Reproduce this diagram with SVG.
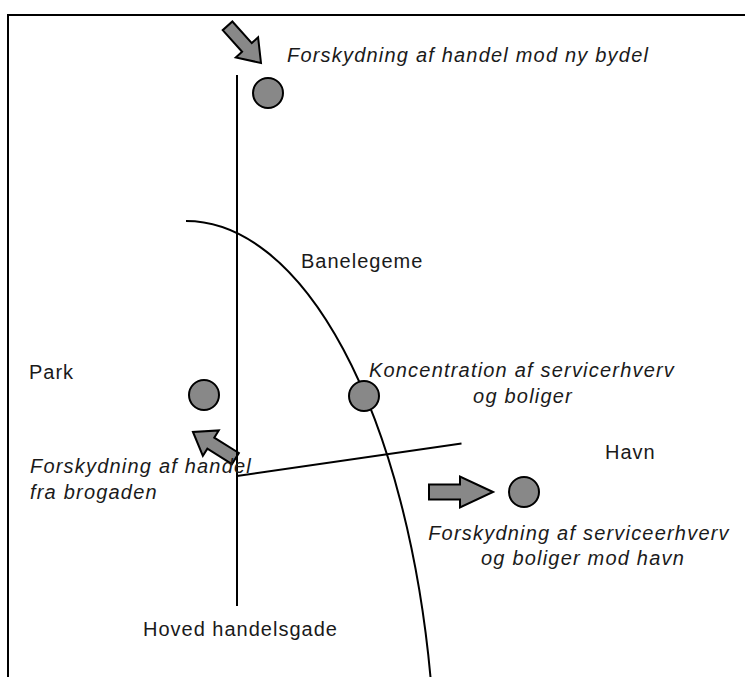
<svg xmlns="http://www.w3.org/2000/svg" xmlns:xlink="http://www.w3.org/1999/xlink" width="745" height="677" viewBox="0 0 745 677">
  <style>
    .line { fill: none; stroke: #000; stroke-width: 2; }
    .dot { fill: #888888; stroke: #000; stroke-width: 2; }
    .arr { fill: #888888; stroke: #000; stroke-width: 2; stroke-linejoin: miter; }
    .lbl { font-family: "Liberation Sans", Arial, sans-serif; font-size: 20px; fill: #1a1a1a; letter-spacing: 1px; }
    .it { font-style: italic; letter-spacing: 1.2px; }
  </style>
  <defs>
    <polygon id="arrS" points="0,0 -21,-15 -21,-6.5 -50,-6.5 -50,6.5 -21,6.5 -21,15"/>
    <polygon id="arrL" points="0,0 -33,-15.5 -33,-7.5 -64,-7.5 -64,7.5 -33,7.5 -33,15.5"/>
  </defs>
  <rect x="0" y="0" width="745" height="677" fill="#fff"/>
  <rect id="frame" x="8" y="15" width="800" height="800" fill="none" stroke="#000" stroke-width="2"/>

  <g id="arrows">
    <use xlink:href="#arrS" class="arr" transform="translate(261,63) rotate(48)"/>
    <use xlink:href="#arrS" class="arr" transform="translate(193,432) rotate(212)"/>
    <use xlink:href="#arrL" class="arr" transform="translate(493,492)"/>
  </g>

  <g id="connectors">
    <line class="line" x1="237" y1="75" x2="237" y2="606"/>
    <path class="line" d="M186,221 A250,576 0 0 1 430.5,677"/>
    <line class="line" x1="237" y1="476" x2="461.5" y2="443.5"/>
  </g>

  <g id="node-top">
    <circle class="dot" cx="268" cy="93" r="15"/>
    <text class="lbl it" x="287" y="62">Forskydning af handel mod ny bydel</text>
  </g>
  <g id="node-park">
    <circle class="dot" cx="204" cy="395" r="15"/>
    <text class="lbl it" x="30" y="473">Forskydning af handel</text>
    <text class="lbl it" x="30" y="499">fra brogaden</text>
  </g>
  <g id="node-center">
    <circle class="dot" cx="364" cy="396" r="15"/>
    <text class="lbl it" x="522" y="377" text-anchor="middle">Koncentration af servicerhverv</text>
    <text class="lbl it" x="523" y="403" text-anchor="middle">og boliger</text>
  </g>
  <g id="node-havn">
    <circle class="dot" cx="524" cy="492" r="15"/>
    <text class="lbl it" x="579" y="540" text-anchor="middle">Forskydning af serviceerhverv</text>
    <text class="lbl it" x="583" y="565" text-anchor="middle">og boliger mod havn</text>
  </g>

  <g id="labels">
    <text class="lbl" x="301" y="268">Banelegeme</text>
    <text class="lbl" x="29" y="379">Park</text>
    <text class="lbl" x="605" y="459">Havn</text>
    <text class="lbl" x="143" y="636">Hoved handelsgade</text>
  </g>
</svg>
